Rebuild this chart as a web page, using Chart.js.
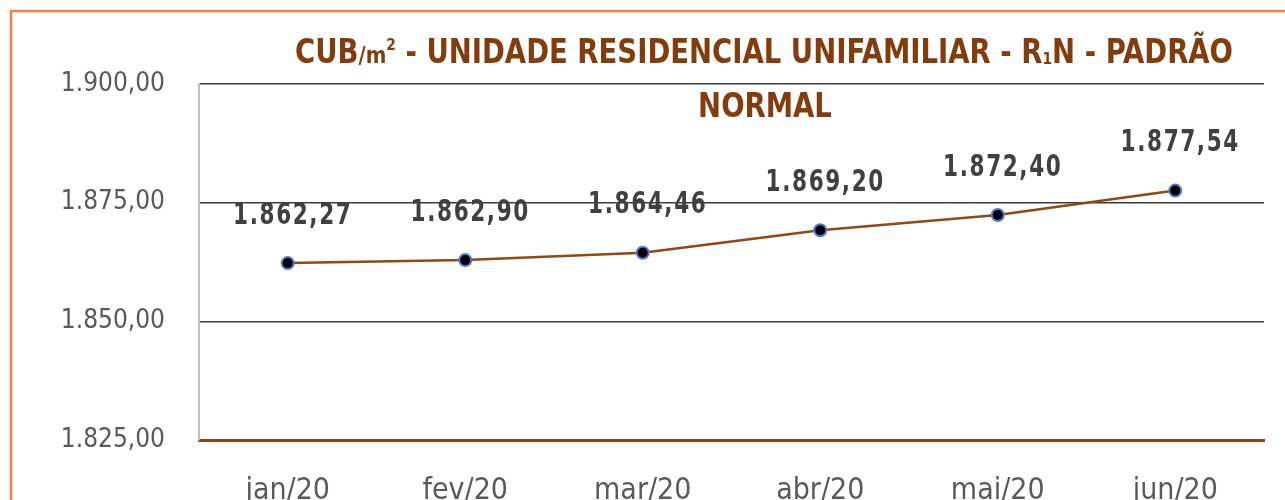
<!DOCTYPE html>
<html>
<head>
<meta charset="utf-8">
<script src="https://cdn.jsdelivr.net/npm/chart.js@4.4.1/dist/chart.umd.min.js"></script>
<style>
  html, body { margin: 0; padding: 0; background: #ffffff; }
  #wrap { position: relative; width: 1285px; height: 500px; overflow: hidden; }
  canvas { display: block; }
</style>
</head>
<body>
<div id="wrap"><canvas id="c" width="1285" height="500"></canvas></div>
<script>
const categories = ['jan/20', 'fev/20', 'mar/20', 'abr/20', 'mai/20', 'jun/20'];
const cubValues = [1862.27, 1862.90, 1864.46, 1869.20, 1872.40, 1877.54];
const yTicks = [1825, 1850, 1875, 1900];
const titleLine1 = [
  { t: 'CUB', size: 1, dy: 0 },
  { t: '/m', size: 0.72, dy: 0 },
  { t: '2', size: 0.5, dy: -0.38 },
  { t: ' - UNIDADE RESIDENCIAL UNIFAMILIAR - R', size: 1, dy: 0 },
  { t: '1', size: 0.5, dy: 0.02 },
  { t: 'N - PADRÃO', size: 1, dy: 0 }
];
const titleLine2 = 'NORMAL';

function fmtBR(v) {
  const parts = v.toFixed(2).split('.');
  const int = parts[0].replace(/\B(?=(\d{3})+(?!\d))/g, '.');
  return int + ',' + parts[1];
}

const CONDENSED = '"Liberation Sans Narrow", "DejaVu Sans Condensed", "Roboto", sans-serif';
const BROWN = '#843C0C';

const framePlugin = {
  id: 'frame',
  beforeDraw(chart) {
    const ctx = chart.ctx;
    ctx.save();
    ctx.fillStyle = '#ffffff';
    ctx.fillRect(0, 0, chart.width, chart.height);
    ctx.strokeStyle = '#F4823C';
    ctx.lineWidth = 2.5;
    ctx.beginPath();
    ctx.moveTo(11, chart.height + 5);
    ctx.lineTo(11, 11);
    ctx.lineTo(chart.width + 5, 11);
    ctx.stroke();
    ctx.restore();
  }
};

const titlePlugin = {
  id: 'customTitle',
  afterDraw(chart) {
    const ctx = chart.ctx;
    const base = 33;
    ctx.save();
    ctx.fillStyle = BROWN;
    ctx.textBaseline = 'alphabetic';
    ctx.textAlign = 'left';
    let total = 0;
    titleLine1.forEach(r => {
      ctx.font = 'bold ' + (base * r.size) + 'px ' + CONDENSED;
      total += ctx.measureText(r.t).width;
    });
    const left = 295, right = 1233;
    const sx = (right - left) / total;
    ctx.translate(left, 63);
    ctx.scale(sx, 1);
    let x = 0;
    titleLine1.forEach(r => {
      ctx.font = 'bold ' + (base * r.size) + 'px ' + CONDENSED;
      ctx.fillText(r.t, x, r.dy * base);
      x += ctx.measureText(r.t).width;
    });
    ctx.setTransform(1, 0, 0, 1, 0, 0);
    ctx.font = 'bold ' + base + 'px ' + CONDENSED;
    const w2 = ctx.measureText(titleLine2).width * sx;
    ctx.translate(765 - w2 / 2, 117);
    ctx.scale(sx, 1);
    ctx.fillText(titleLine2, 0, 0);
    ctx.restore();
  }
};

const labelPlugin = {
  id: 'valueLabels',
  afterDatasetsDraw(chart) {
    const ctx = chart.ctx;
    const meta = chart.getDatasetMeta(0);
    ctx.save();
    ctx.fillStyle = '#404040';
    ctx.font = 'bold 30px "DejaVu Sans Condensed", "DejaVu Sans", sans-serif';
    ctx.textAlign = 'center';
    ctx.textBaseline = 'middle';
    try { ctx.letterSpacing = '2px'; } catch (e) {}
    const sx = 0.8;
    meta.data.forEach((pt, i) => {
      const txt = fmtBR(chart.data.datasets[0].data[i]);
      ctx.save();
      ctx.translate(pt.x + 5, pt.y - 47);
      ctx.scale(sx, 1);
      ctx.fillText(txt, 0, 0);
      ctx.restore();
    });
    ctx.restore();
  }
};

new Chart(document.getElementById('c'), {
  type: 'line',
  data: {
    labels: categories,
    datasets: [{
      data: cubValues,
      borderColor: '#964514',
      borderWidth: 2.5,
      pointRadius: 6,
      pointHoverRadius: 6,
      pointBackgroundColor: '#000000',
      pointBorderColor: '#4A7BD0',
      pointBorderWidth: 2,
      tension: 0,
      fill: false
    }]
  },
  options: {
    responsive: false,
    animation: false,
    events: [],
    layout: { padding: { left: 0, right: 21, top: 84, bottom: 0 } },
    plugins: {
      legend: { display: false },
      title: { display: false },
      tooltip: { enabled: false }
    },
    scales: {
      x: {
        type: 'category',
        offset: true,
        grid: { display: false, drawTicks: false },
        border: { display: true, color: '#8B4513', width: 3 },
        ticks: {
          color: '#595959',
          padding: 33,
          maxRotation: 0,
          font: { family: CONDENSED, size: 30 }
        },
        afterFit(scale) { scale.height = 60; }
      },
      y: {
        min: 1825,
        max: 1900,
        afterBuildTicks(scale) { scale.ticks = yTicks.map(v => ({ value: v })); },
        grid: {
          drawTicks: false,
          color: (c) => (c.tick && c.tick.value === 1825) ? 'rgba(0,0,0,0)' : '#3a3a3a',
          lineWidth: 1.5
        },
        border: { display: true, color: '#BFBFBF', width: 2 },
        ticks: {
          color: '#595959',
          padding: 34,
          font: { family: CONDENSED, size: 26 },
          callback: (v) => fmtBR(v)
        },
        afterFit(scale) { scale.width = 199; }
      }
    }
  },
  plugins: [framePlugin, titlePlugin, labelPlugin]
});
</script>
</body>
</html>
